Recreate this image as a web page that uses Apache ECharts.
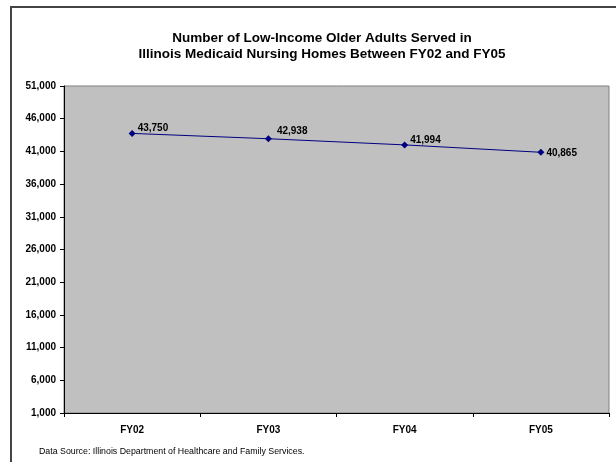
<!DOCTYPE html>
<html>
<head>
<meta charset="utf-8">
<script src="https://cdn.jsdelivr.net/npm/echarts@6/dist/echarts.min.js"></script>
<style>html,body{margin:0;padding:0;background:#fff}#c{width:616px;height:462px}</style>
</head>
<body>
<div id="c"></div>
<script>
const categories = ['FY02', 'FY03', 'FY04', 'FY05'];
const served = [43750, 42938, 41994, 40865];
const yMin = 1000, yMax = 51000, yStep = 5000;
const titleLines = ['Number of Low-Income Older Adults Served in', 'Illinois Medicaid Nursing Homes Between FY02 and FY05'];
const sourceNote = 'Data Source: Illinois Department of Healthcare and Family Services.';

const labelOffsets = [[0, -5], [3, -7], [0, -5], [0, 1]];
const fmt = v => Number(v).toLocaleString('en-US');
const FONT = '"Liberation Sans", Arial, sans-serif';

const chart = echarts.init(document.getElementById('c'), null, {renderer: 'canvas'});
chart.setOption({
  animation: false,
  backgroundColor: '#fff',
  textStyle: {fontFamily: FONT},
  title: {
    text: titleLines.join('\n'),
    left: 317, top: 25, textAlign: 'center',
    textStyle: {fontFamily: FONT, fontSize: 13.5, fontWeight: 'bold', color: '#000', lineHeight: 16.5}
  },
  graphic: [
    {type: 'rect', shape: {x: 11, y: 7, width: 700, height: 600}, style: {fill: 'none', stroke: '#444', lineWidth: 2}, z: 100},
    {type: 'text', left: 39, top: 447, style: {text: sourceNote, font: '8.8px "Liberation Sans", Arial, sans-serif', fill: '#000'}}
  ],
  grid: {left: 64, right: 7, top: 86, bottom: 49, show: true, backgroundColor: '#c0c0c0', borderColor: '#808080', borderWidth: 1},
  xAxis: {
    type: 'category', data: categories, boundaryGap: true,
    axisLine: {lineStyle: {color: '#000', width: 1}},
    axisTick: {show: true, length: 4, lineStyle: {color: '#000'}},
    axisLabel: {color: '#000', fontFamily: FONT, fontSize: 10, fontWeight: 'bold', margin: 12}
  },
  yAxis: {
    type: 'value', min: yMin, max: yMax, interval: yStep,
    axisLine: {show: true, lineStyle: {color: '#000', width: 1}},
    axisTick: {show: true, length: 4, lineStyle: {color: '#000'}},
    splitLine: {show: false},
    axisLabel: {color: '#000', fontFamily: FONT, fontSize: 10, fontWeight: 'bold', margin: 8, formatter: fmt}
  },
  series: [{
    type: 'line',
    data: served.map((v, i) => ({value: v, label: {offset: labelOffsets[i]}})),
    lineStyle: {color: '#000080', width: 1},
    itemStyle: {color: '#000080'},
    symbol: 'diamond', symbolSize: 7,
    label: {show: true, position: 'right', distance: 2, color: '#000', fontFamily: FONT, fontSize: 10, fontWeight: 'bold', formatter: p => fmt(p.value)}
  }]
});
</script>
</body>
</html>
